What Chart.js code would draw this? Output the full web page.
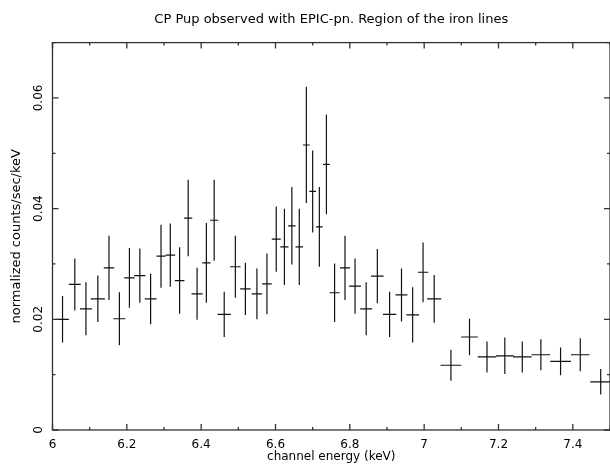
<!DOCTYPE html>
<html>
<head>
<meta charset="utf-8">
<script src="https://cdn.jsdelivr.net/npm/chart.js@4"></script>
<style>
  body { margin: 0; background: #fff; }
</style>
</head>
<body>
<canvas id="ironChart" width="610" height="464"></canvas>
<script>
// bin centres and half widths (keV)
var energy = [6.027, 6.060, 6.090, 6.122, 6.152, 6.180, 6.207, 6.235, 6.264, 6.292,
  6.317, 6.342, 6.365, 6.389, 6.414, 6.435, 6.462, 6.492, 6.519, 6.550,
  6.577, 6.602, 6.624, 6.644, 6.664, 6.683, 6.700, 6.718, 6.737, 6.759,
  6.787, 6.814, 6.844, 6.874, 6.907, 6.939, 6.969, 6.997, 7.027, 7.072,
  7.122, 7.169, 7.217, 7.264, 7.314, 7.367, 7.420, 7.475];
var energyHalf = [0.017, 0.016, 0.016, 0.019, 0.014, 0.016, 0.014, 0.015, 0.016, 0.012,
  0.013, 0.013, 0.011, 0.015, 0.011, 0.011, 0.018, 0.014, 0.014, 0.014,
  0.013, 0.012, 0.011, 0.010, 0.010, 0.009, 0.009, 0.009, 0.009, 0.0135,
  0.0135, 0.016, 0.016, 0.017, 0.018, 0.016, 0.017, 0.014, 0.019, 0.028,
  0.0225, 0.025, 0.024, 0.025, 0.025, 0.028, 0.025, 0.028];
// normalized counts/sec/keV and 1-sigma errors
var counts = [0.0200, 0.0263, 0.0219, 0.0237, 0.0293, 0.0201, 0.0275, 0.0279, 0.0237, 0.0314,
  0.0316, 0.0270, 0.0383, 0.0246, 0.0302, 0.0379, 0.0209, 0.0295, 0.0255, 0.0246,
  0.0264, 0.0345, 0.0331, 0.0369, 0.0331, 0.0515, 0.0431, 0.0367, 0.0480, 0.0248,
  0.0293, 0.0260, 0.0219, 0.0278, 0.0209, 0.0244, 0.0208, 0.0285, 0.0237, 0.0117,
  0.0168, 0.0132, 0.0134, 0.0132, 0.0136, 0.0124, 0.0136, 0.0087];
var countsErr = [0.0042, 0.0047, 0.0048, 0.0042, 0.0058, 0.0048, 0.0054, 0.0049, 0.0046, 0.0057,
  0.0057, 0.0060, 0.0069, 0.0047, 0.0072, 0.0073, 0.0041, 0.0056, 0.0047, 0.0046,
  0.0055, 0.0059, 0.0069, 0.0070, 0.0069, 0.0105, 0.0074, 0.0072, 0.0090, 0.0053,
  0.0058, 0.0050, 0.0048, 0.0049, 0.0041, 0.0048, 0.0050, 0.0054, 0.0043, 0.0028,
  0.0033, 0.0028, 0.0033, 0.0028, 0.0028, 0.0025, 0.0030, 0.0023];

var fontFamily = "'DejaVu Sans', sans-serif";

// crosses: horizontal bar = bin width, vertical bar = error
var errorBars = {
  id: 'errorBars',
  afterDatasetsDraw: function (chart) {
    var ctx = chart.ctx, x = chart.scales.x, y = chart.scales.y, a = chart.chartArea;
    ctx.save();
    ctx.beginPath();
    ctx.rect(a.left, a.top, a.right - a.left, a.bottom - a.top);
    ctx.clip();
    ctx.strokeStyle = '#111';
    ctx.lineWidth = 1.2;
    for (var i = 0; i < energy.length; i++) {
      var px = x.getPixelForValue(energy[i]);
      var py = y.getPixelForValue(counts[i]);
      ctx.beginPath();
      ctx.moveTo(x.getPixelForValue(energy[i] - energyHalf[i]), py);
      ctx.lineTo(x.getPixelForValue(energy[i] + energyHalf[i]), py);
      ctx.moveTo(px, y.getPixelForValue(counts[i] - countsErr[i]));
      ctx.lineTo(px, y.getPixelForValue(counts[i] + countsErr[i]));
      ctx.stroke();
    }
    ctx.restore();
  }
};

// box with inward ticks on all four sides
var frame = {
  id: 'frame',
  afterDraw: function (chart) {
    var ctx = chart.ctx, x = chart.scales.x, y = chart.scales.y, a = chart.chartArea;
    ctx.save();
    ctx.strokeStyle = '#333';
    ctx.lineWidth = 1.3;
    ctx.strokeRect(a.left, a.top, a.right - a.left, a.bottom - a.top);
    ctx.beginPath();
    x.ticks.forEach(function (t) {
      var p = x.getPixelForValue(t.value);
      var len = t.label ? 6 : 3;
      ctx.moveTo(p, a.bottom); ctx.lineTo(p, a.bottom - len);
      ctx.moveTo(p, a.top); ctx.lineTo(p, a.top + len);
    });
    y.ticks.forEach(function (t) {
      var p = y.getPixelForValue(t.value);
      var len = t.label ? 6 : 3;
      ctx.moveTo(a.left, p); ctx.lineTo(a.left + len, p);
      ctx.moveTo(a.right, p); ctx.lineTo(a.right - len, p);
    });
    ctx.stroke();
    ctx.restore();
  }
};

new Chart("ironChart", {
  type: "scatter",
  data: {
    datasets: [{
      data: energy.map(function (e, i) { return {x: e, y: counts[i]}; }),
      pointRadius: 0,
      pointHoverRadius: 0
    }]
  },
  plugins: [errorBars, frame],
  options: {
    responsive: false,
    animation: false,
    layout: {
      padding: {top: 0, right: 0, bottom: 0, left: 0}
    },
    plugins: {
      legend: {
        display: false
      },
      tooltip: {
        enabled: false
      },
      title: {
        display: true,
        fullSize: false,
        text: "CP Pup observed with EPIC-pn. Region of the iron lines",
        color: "#000",
        font: {family: fontFamily, size: 13, weight: "normal"},
        padding: {top: 12, bottom: 15}
      }
    },
    scales: {
      x: {
        type: "linear",
        min: 6,
        max: 7.5,
        grid: {display: false},
        border: {display: false},
        afterFit: function (s) { s.height = 34; s.paddingLeft = 0; s.paddingRight = 0; },
        ticks: {
          stepSize: 0.1,
          autoSkip: false,
          maxRotation: 0,
          padding: 0,
          color: "#000",
          font: {family: fontFamily, size: 12},
          callback: function (v) {
            return Math.round(v * 10) % 2 === 0 && v < 7.45 ? String(Number(v.toFixed(1))) : "";
          }
        },
        title: {
          display: true,
          text: "channel energy (keV)",
          color: "#000",
          font: {family: fontFamily, size: 12},
          padding: {top: 0, bottom: 0}
        }
      },
      y: {
        min: 0,
        max: 0.07,
        grid: {display: false},
        border: {display: false},
        afterFit: function (s) { s.width = 52.5; s.paddingTop = 0; s.paddingBottom = 0; },
        ticks: {
          stepSize: 0.01,
          autoSkip: false,
          minRotation: 90,
          maxRotation: 90,
          crossAlign: "center",
          padding: -8,
          color: "#000",
          font: {family: fontFamily, size: 12},
          callback: function (v) {
            var n = Math.round(v * 100);
            if (n % 2 !== 0) return "";
            return n === 0 ? "0" : (n / 100).toFixed(2);
          }
        },
        title: {
          display: true,
          text: "normalized counts/sec/keV",
          color: "#000",
          font: {family: fontFamily, size: 13},
          padding: {top: 9, bottom: 0}
        }
      }
    }
  }
});
</script>
</body>
</html>
